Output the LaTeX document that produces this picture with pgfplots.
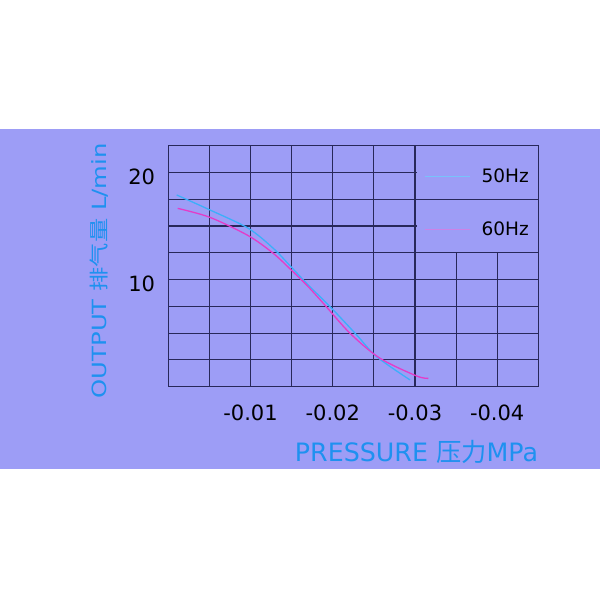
\documentclass[border=0pt]{standalone}
\usepackage{fontspec}
\setmainfont{DejaVu Sans}
\newfontfamily\cjk{Noto Sans CJK SC}
\usepackage{graphicx}
\usepackage{pgfplots}
\pgfplotsset{compat=1.18}

\definecolor{band}{RGB}{157,157,246}
\definecolor{gridc}{RGB}{40,40,90}
\definecolor{c50}{RGB}{60,175,250}
\definecolor{c60}{RGB}{228,60,200}
\definecolor{lab}{RGB}{30,145,240}
\definecolor{l50}{RGB}{120,195,250}
\definecolor{l60}{RGB}{205,130,230}

\begin{document}
\begin{tikzpicture}[x=1pt,y=1pt]
	% page and band, plot area lower left at (0,0), 1pt = 1px
	\path[use as bounding box,fill=white] (-168.3,-213.3) rectangle (431.7,386.7);
	\fill[band] (-168.3,-82.3) rectangle (431.7,257.7);
	\begin{axis}[
		at={(0,0)},anchor=south west,
		scale only axis,width=370pt,height=241pt,
		x dir=reverse,
		xmin=-0.045,xmax=0,ymin=0,ymax=22.5,
		scaled x ticks=false,
		xtick={0,-0.005,-0.01,-0.015,-0.02,-0.025,-0.03,-0.035,-0.04,-0.045},
		xticklabels={,,{-0.01},,{-0.02},,{-0.03},,{-0.04},},
		ytick={0,2.5,5,7.5,10,12.5,15,17.5,20,22.5},
		yticklabels={,,,,{10},,,,{20},},
		major tick length=0pt,
		grid=major,
		grid style={gridc,line width=1.1pt},
		axis line style={gridc,line width=1.1pt},
		/pgf/number format/assume math mode=true,
		tick label style={font=\fontsize{21}{21}\selectfont,black},
		xticklabel style={anchor=base,yshift=-33.5pt},
		yticklabel style={anchor=east,inner sep=0pt,xshift=-13pt,yshift=-4.5pt},
		xlabel={PRESSURE {\cjk 压力}MPa},
		xlabel style={at={(axis description cs:1,-0.311)},anchor=base east,inner sep=0pt,font=\fontsize{25.3}{25.3}\selectfont,text=lab},
		ylabel={\scalebox{1.24}[1]{OUTPUT {\cjk 排气量} L/min}},
		ylabel style={at={(axis description cs:-0.187,0.481)},anchor=center,inner sep=0pt,font=\fontsize{19.6}{19.6}\selectfont,text=lab},
		legend style={at={(axis cs:-0.03118,20.58)},anchor=north west,draw=none,fill=none,
			font=\fontsize{18.5}{18.5}\selectfont,row sep=34pt,inner sep=0pt},
		legend cell align=left,
		legend image code/.code={\draw[#1] (0pt,0pt) -- (45pt,0pt);\path (54pt,0pt);},
	]
		% clear the grid inside the legend box, keeping the line between the entries
		\fill[band] (axis cs:-0.0302,17.56) rectangle (axis cs:-0.045,22.5);
		\fill[band] (axis cs:-0.0302,12.62) rectangle (axis cs:-0.045,17.44);
		\addplot[gridc,line width=1.2pt,forget plot] coordinates {(-0.03,17.5) (-0.045,17.5)};

		\addplot[c50,line width=1.3pt,smooth,forget plot] coordinates {
			(-0.00102,17.90) (-0.00507,16.50) (-0.00973,14.79) (-0.01277,12.92)
			(-0.01480,11.30) (-0.01683,9.65) (-0.02007,7.16) (-0.02291,4.83)
			(-0.02535,2.80) (-0.02940,0.63)};
		\addplot[c60,line width=1.3pt,smooth,forget plot] coordinates {
			(-0.00114,16.65) (-0.00507,15.81) (-0.00973,14.10) (-0.01277,12.45)
			(-0.01501,10.85) (-0.01683,9.49) (-0.01885,7.79) (-0.02210,4.99)
			(-0.02575,2.65) (-0.03021,1.00) (-0.03162,0.78)};

		% legend samples (faint lines as in the original)
		\addlegendimage{l50,line width=0.8pt}
		\addlegendentry{50Hz}
		\addlegendimage{l60,line width=0.8pt}
		\addlegendentry{60Hz}
	\end{axis}
\end{tikzpicture}
\end{document}
